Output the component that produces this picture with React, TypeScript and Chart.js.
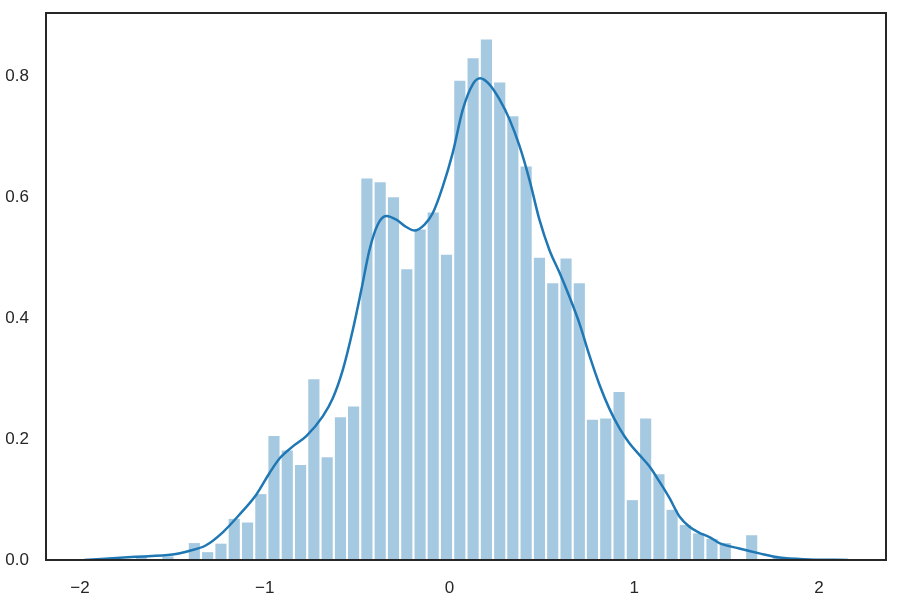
import React, { useEffect, useRef } from "react";
import { Chart, registerables } from "chart.js";

Chart.register(...registerables);

// Histogram bin centres (50 bins)
const binCenters = [
  -1.668, -1.596, -1.524, -1.452, -1.381, -1.309, -1.237, -1.165, -1.093, -1.021,
  -0.95, -0.878, -0.806, -0.734, -0.662, -0.59, -0.519, -0.447, -0.375, -0.303,
  -0.231, -0.159, -0.088, -0.016, 0.056, 0.128, 0.2, 0.272, 0.343, 0.415,
  0.487, 0.559, 0.631, 0.703, 0.774, 0.846, 0.918, 0.99, 1.062, 1.134,
  1.205, 1.277, 1.349, 1.421, 1.493, 1.565, 1.636, 1.708, 1.78, 1.852,
];

// Histogram densities
const binHeights = [
  0.007, 0, 0.006, 0, 0.028, 0.013, 0.027, 0.068, 0.062, 0.109,
  0.205, 0.181, 0.157, 0.299, 0.17, 0.236, 0.254, 0.631, 0.625, 0.6,
  0.481, 0.547, 0.575, 0.505, 0.793, 0.83, 0.861, 0.79, 0.734, 0.651,
  0.5, 0.458, 0.499, 0.458, 0.232, 0.234, 0.278, 0.099, 0.234, 0.142,
  0.083, 0.058, 0.044, 0.035, 0.028, 0, 0.041, 0, 0.004, 0,
];

// KDE curve sample points
const kdeX = [
  -1.977, -1.7, -1.5, -1.41, -1.32, -1.23, -1.14, -1.046, -0.974, -0.92,
  -0.848, -0.775, -0.685, -0.631, -0.577, -0.523, -0.477, -0.433, -0.388, -0.342,
  -0.288, -0.234, -0.189, -0.135, -0.09, -0.036, 0.018, 0.072, 0.126, 0.166,
  0.216, 0.271, 0.325, 0.379, 0.433, 0.487, 0.541, 0.595, 0.649, 0.703,
  0.758, 0.812, 0.866, 0.92, 0.974, 1.028, 1.082, 1.136, 1.19, 1.245,
  1.299, 1.353, 1.407, 1.461, 1.569, 1.677, 1.786, 1.948, 2.157,
];
const kdeY = [
  0.0, 0.0055, 0.009, 0.015, 0.024, 0.045, 0.074, 0.108, 0.144, 0.168,
  0.188, 0.205, 0.238, 0.268, 0.315, 0.381, 0.447, 0.513, 0.555, 0.569,
  0.563, 0.551, 0.545, 0.555, 0.574, 0.618, 0.674, 0.745, 0.787, 0.797,
  0.787, 0.762, 0.729, 0.685, 0.629, 0.563, 0.513, 0.476, 0.436, 0.392,
  0.338, 0.29, 0.25, 0.218, 0.193, 0.174, 0.155, 0.13, 0.103, 0.072,
  0.055, 0.045, 0.038, 0.028, 0.019, 0.011, 0.004, 0.001, 0.0,
];

const xTicks = [-2, -1, 0, 1, 2];
const yTicks = [0, 0.2, 0.4, 0.6, 0.8];

const X_MIN = -2.184;
const X_MAX = 2.363;
const Y_MAX = 0.905;

const TEXT = "#262626";
const FONT = { family: "'Liberation Sans', Arial, sans-serif", size: 17 };

const framePlugin = {
  id: "frame",
  afterDraw(chart: any) {
    const { ctx, chartArea } = chart;
    ctx.save();
    ctx.strokeStyle = TEXT;
    ctx.lineWidth = 2;
    ctx.strokeRect(chartArea.left, chartArea.top, chartArea.right - chartArea.left, chartArea.bottom - chartArea.top);
    ctx.restore();
  },
};

export default function App() {
  const ref = useRef<HTMLCanvasElement>(null);

  useEffect(() => {
    if (!ref.current) return;
    const chart = new Chart(ref.current, {
      type: "bar",
      data: {
        datasets: [
          {
            type: "line",
            data: kdeX.map((x, i) => ({ x, y: kdeY[i] })),
            borderColor: "#1f77b4",
            borderWidth: 2.5,
            pointRadius: 0,
            fill: false,
            cubicInterpolationMode: "monotone",
            order: 0,
          } as any,
          {
            type: "bar",
            data: binCenters.map((x, i) => ({ x, y: binHeights[i] })),
            backgroundColor: "rgba(31,119,180,0.4)",
            borderWidth: 0,
            barPercentage: 0.85,
            categoryPercentage: 1,
            order: 1,
          } as any,
        ],
      },
      options: {
        responsive: false,
        animation: false,
        layout: { padding: { top: 13, right: 14, left: 0, bottom: 0 } },
        plugins: { legend: { display: false }, tooltip: { enabled: false } },
        scales: {
          x: {
            type: "linear",
            min: X_MIN,
            max: X_MAX,
            offset: false,
            grid: { display: false, drawTicks: false, offset: false },
            border: { display: false },
            afterBuildTicks: (s: any) => {
              s.ticks = xTicks.map((v) => ({ value: v }));
            },
            afterFit: (s: any) => {
              s.height = 40;
              s.paddingLeft = 0;
              s.paddingRight = 0;
            },
            ticks: {
              color: TEXT,
              font: FONT,
              padding: 18,
              maxRotation: 0,
              callback: (v: any) => (v < 0 ? "\u2212" + Math.abs(v) : String(v)),
            },
          },
          y: {
            type: "linear",
            min: 0,
            max: Y_MAX,
            grid: { display: false, drawTicks: false },
            border: { display: false },
            afterBuildTicks: (s: any) => {
              s.ticks = yTicks.map((v) => ({ value: v }));
            },
            afterFit: (s: any) => {
              s.width = 46;
              s.paddingTop = 0;
              s.paddingBottom = 0;
            },
            ticks: {
              color: TEXT,
              font: FONT,
              padding: 17,
              callback: (v: any) => Number(v).toFixed(1),
            },
          },
        },
      },
      plugins: [framePlugin],
    });
    return () => chart.destroy();
  }, []);

  return (
    <div style={{ position: "absolute", left: 0, top: 0, width: 900, height: 600, background: "#fff" }}>
      <canvas ref={ref} width={900} height={600} />
    </div>
  );
}
